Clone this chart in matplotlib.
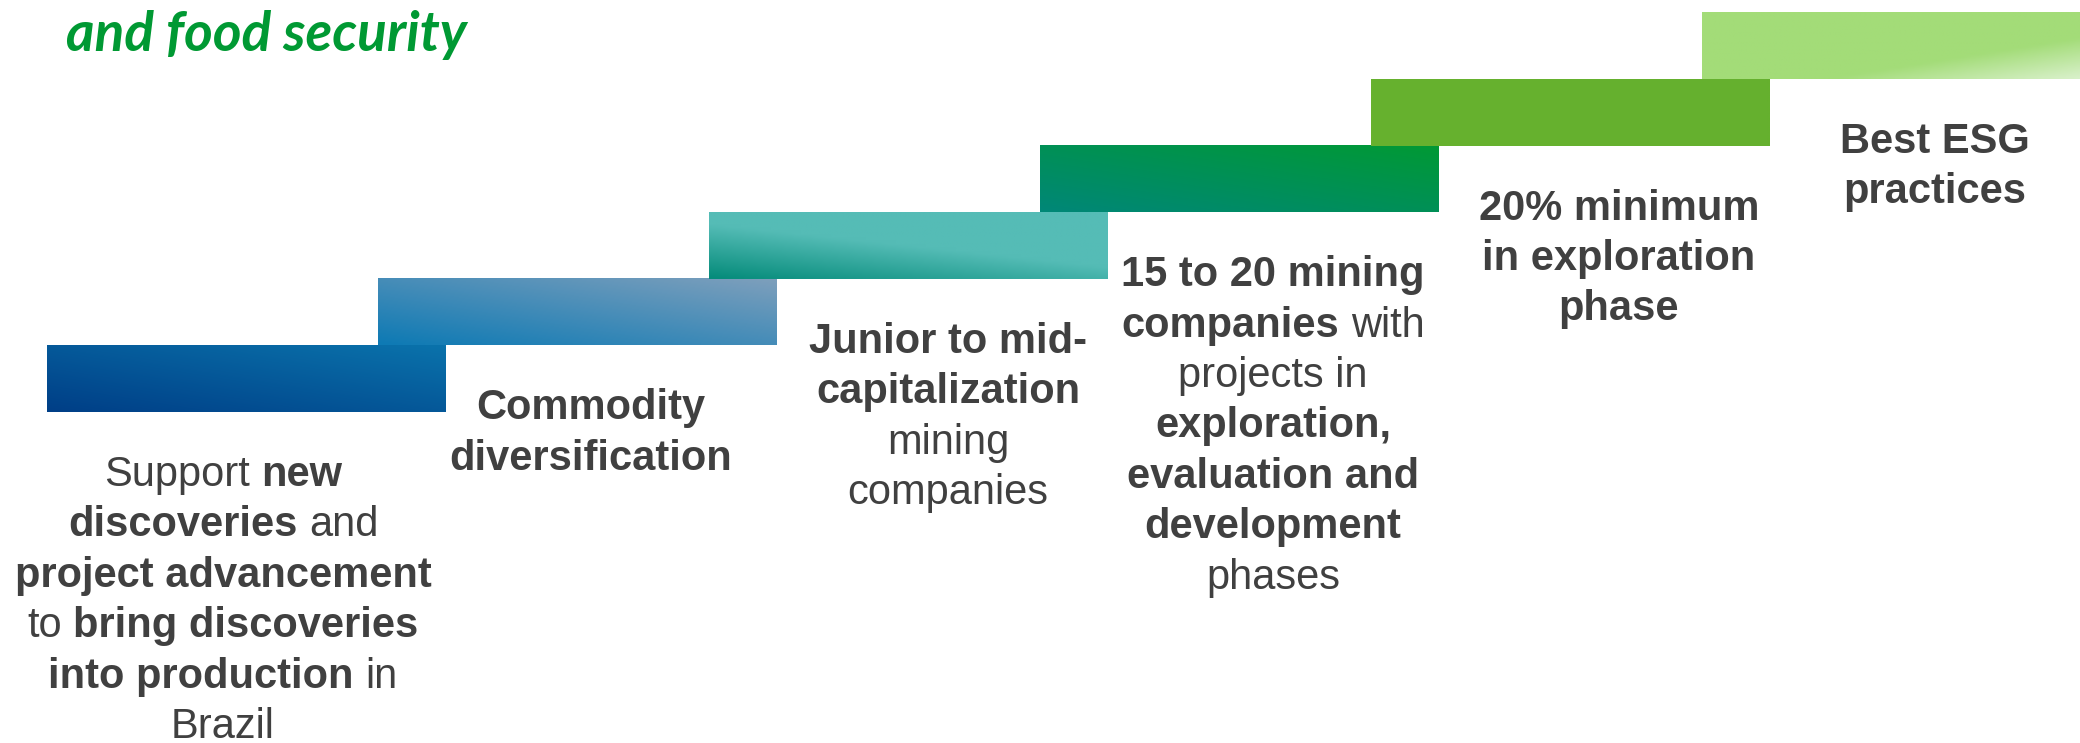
import numpy as np
import matplotlib
matplotlib.use('Agg')
import matplotlib.pyplot as plt
from matplotlib.colors import LinearSegmentedColormap

W, H, DPI = 2080, 743, 100

title = 'and food security'

# each line is a list of (text, bold) pieces
support_text = [
    [('Support', False), ('new', True)],
    [('discoveries', True), ('and', False)],
    [('project advancement', True)],
    [('to', False), ('bring discoveries', True)],
    [('into production', True), ('in', False)],
    [('Brazil', False)],
]
commodity_text = [
    [('Commodity', True)],
    [('diversification', True)],
]
junior_text = [
    [('Junior to mid-', True)],
    [('capitalization', True)],
    [('mining', False)],
    [('companies', False)],
]
companies_text = [
    [('15 to 20 mining', True)],
    [('companies', True), ('with', False)],
    [('projects in', False)],
    [('exploration,', True)],
    [('evaluation and', True)],
    [('development', True)],
    [('phases', False)],
]
exploration_text = [
    [('20% minimum', True)],
    [('in exploration', True)],
    [('phase', True)],
]
esg_text = [
    [('Best ESG', True)],
    [('practices', True)],
]
steps = [support_text, commodity_text, junior_text, companies_text,
         exploration_text, esg_text]

# gradient stops and direction (u weight, v weight) for each step bar
bar_stops = [
    ['#003f87', '#0a72ab'],
    ['#0e7ab4', '#7d9fbc'],
    ['#068c7b', '#55bcb6', '#55bcb6'],
    ['#008777', '#009935'],
    ['#67b22f', '#65b02e'],
    ['#a3dc78', '#a3dc78', '#a3dc78', '#dcf2cf'],
]
bar_dir = [(1, 1), (1, 1), (1, 1.5), (1, 1), (1, 0), (1, -1)]

# layout (pixels)
bar_x0, bar_dx, bar_w = 47, 331, 399
bar_bottom0, bar_dy, bar_h = 412, 66.6, 66.5
text_cx = [223, 591, 948, 1273, 1619, 1935]
line_gap = 50.4
TEXT_COLOR = '#404040'
BODY_FONT = 'Liberation Sans'
BODY_SIZE = 30


def gradient(stops, direction, n=80):
    u = np.linspace(0, 1, n)
    v = np.linspace(0, 1, 20)
    uu, vv = np.meshgrid(u, v)
    t = direction[0] * uu + direction[1] * vv
    t = (t - t.min()) / (t.max() - t.min() + 1e-9)
    cmap = LinearSegmentedColormap.from_list('g', stops)
    return cmap(t)


def draw_line(ax, renderer, segs, cx, y):
    texts, widths = [], []
    for s, bold in segs:
        t = ax.text(0, y, s, fontsize=BODY_SIZE, family=BODY_FONT,
                    fontweight='bold' if bold else 'normal',
                    color=TEXT_COLOR, ha='left', va='baseline')
        texts.append(t)
        widths.append(t.get_window_extent(renderer).width)
    space = 0.278 * BODY_SIZE * DPI / 72
    total = sum(widths) + space * (len(segs) - 1)
    x = cx - total / 2
    for t, w in zip(texts, widths):
        t.set_x(x)
        x += w + space


fig = plt.figure(figsize=(W / DPI, H / DPI), dpi=DPI)
ax = fig.add_axes([0, 0, 1, 1])
ax.set_axis_off()
renderer = fig.canvas.get_renderer()

for i, lines in enumerate(steps):
    left = bar_x0 + i * bar_dx
    bottom = bar_bottom0 - i * bar_dy
    img = gradient(bar_stops[i], bar_dir[i])
    ax.imshow(img, origin='lower', aspect='auto', interpolation='bilinear',
              extent=(left, left + bar_w, bottom, bottom - bar_h))
    for j, segs in enumerate(lines):
        draw_line(ax, renderer, segs, text_cx[i], bottom + 74 + j * line_gap)

ax.set_xlim(0, W)
ax.set_ylim(H, 0)

tt = ax.text(66, 51, title, fontsize=36, family='Lato', style='italic',
             fontweight='bold', color='#009933', ha='left', va='baseline')
tw = tt.get_window_extent(renderer).width
tt.set_fontsize(36 * 400 / tw)

fig.savefig('out.png', dpi=DPI, facecolor='white')
